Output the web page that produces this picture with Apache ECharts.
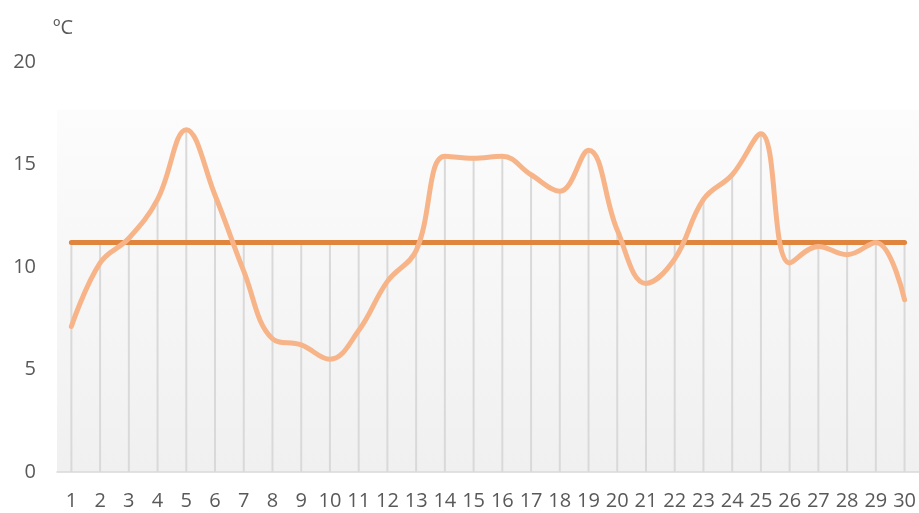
<!DOCTYPE html>
<html lang="es">
<head>
  <meta charset="UTF-8">
  <title>Temperatura</title>
  <style>
    #container, html, body {
      margin: 0;
      padding: 0;
      height: 100%;
      width: 100%;
      background: #fff;
    }
  </style>
</head>
<body>
  <div id="container"></div>
</body>
<script src="https://cdn.jsdelivr.net/npm/echarts@6/dist/echarts.min.js"></script>
<script>
  // days of the month
  var days = [1, 2, 3, 4, 5, 6, 7, 8, 9, 10, 11, 12, 13, 14, 15, 16, 17, 18, 19, 20, 21, 22, 23, 24, 25, 26, 27, 28, 29, 30]
  // daily temperature (ºC)
  var temps = [7.1, 10.2, 11.4, 13.3, 16.7, 13.5, 9.8, 6.5, 6.2, 5.5, 6.9, 9.3, 10.8, 15.4, 15.3, 15.4, 14.5, 13.7, 15.7, 11.8, 9.2, 10.4, 13.3, 14.5, 16.5, 10.2, 11.0, 10.6, 11.2, 8.4]
  // reference (average) line
  var avg = [11.2, 11.2, 11.2, 11.2, 11.2, 11.2, 11.2, 11.2, 11.2, 11.2, 11.2, 11.2, 11.2, 11.2, 11.2, 11.2, 11.2, 11.2, 11.2, 11.2, 11.2, 11.2, 11.2, 11.2, 11.2, 11.2, 11.2, 11.2, 11.2, 11.2]
  var yTicks = [0, 5, 10, 15, 20]

  var font = '"Open Sans", "Noto Sans", sans-serif'
  var textColor = '#595959'

  var charts = echarts.init(document.querySelector('#container'))

  // drop lines go up to the highest of the two series
  var drops = days.map(function (d, i) { return [d, Math.max(temps[i], avg[i])] })

  var option = {
    animation: false,
    textStyle: { fontFamily: font },
    grid: {
      left: 57,
      top: 62,
      width: 864,
      height: 410,
      show: true,
      borderWidth: 0,
      backgroundColor: {
        type: 'linear', x: 0, y: 0, x2: 0, y2: 1,
        colorStops: [
          { offset: 0, color: '#ffffff' },
          { offset: 0.117, color: '#ffffff' },
          { offset: 0.118, color: '#fcfcfc' },
          { offset: 1, color: '#f0f0f0' }
        ]
      }
    },
    xAxis: {
      type: 'value',
      min: 0.5,
      max: 30.5,
      splitLine: { show: false },
      axisTick: { show: false },
      axisLine: { show: true, lineStyle: { color: '#d9d9d9', width: 1.5 } },
      axisLabel: {
        customValues: days,
        color: textColor,
        fontSize: 20,
        fontFamily: font,
        margin: 19
      }
    },
    yAxis: {
      type: 'value',
      min: 0,
      max: 20,
      interval: 5,
      name: 'ºC',
      nameLocation: 'end',
      nameGap: 24,
      nameTextStyle: { color: textColor, fontSize: 20, fontFamily: font, align: 'left', padding: [0, 0, 0, -4] },
      axisLine: { show: false },
      axisTick: { show: false },
      splitLine: { show: false },
      axisLabel: {
        customValues: yTicks,
        color: textColor,
        fontSize: 20,
        fontFamily: font,
        margin: 21
      }
    },
    series: [
      {
        type: 'bar',
        data: drops,
        barWidth: 2,
        itemStyle: { color: '#d9d9d9' },
        silent: true,
        z: 1
      },
      {
        type: 'line',
        data: days.map(function (d, i) { return [d, avg[i]] }),
        symbol: 'none',
        lineStyle: { color: '#df853e', width: 5, cap: 'round' },
        z: 2
      },
      {
        type: 'line',
        data: days.map(function (d, i) { return [d, temps[i]] }),
        smooth: 0.4,
        symbol: 'none',
        lineStyle: { color: '#f7b488', width: 5, cap: 'round', join: 'round' },
        z: 3
      }
    ]
  }
  charts.setOption(option)
  window.onresize = charts.resize
</script>
</html>
